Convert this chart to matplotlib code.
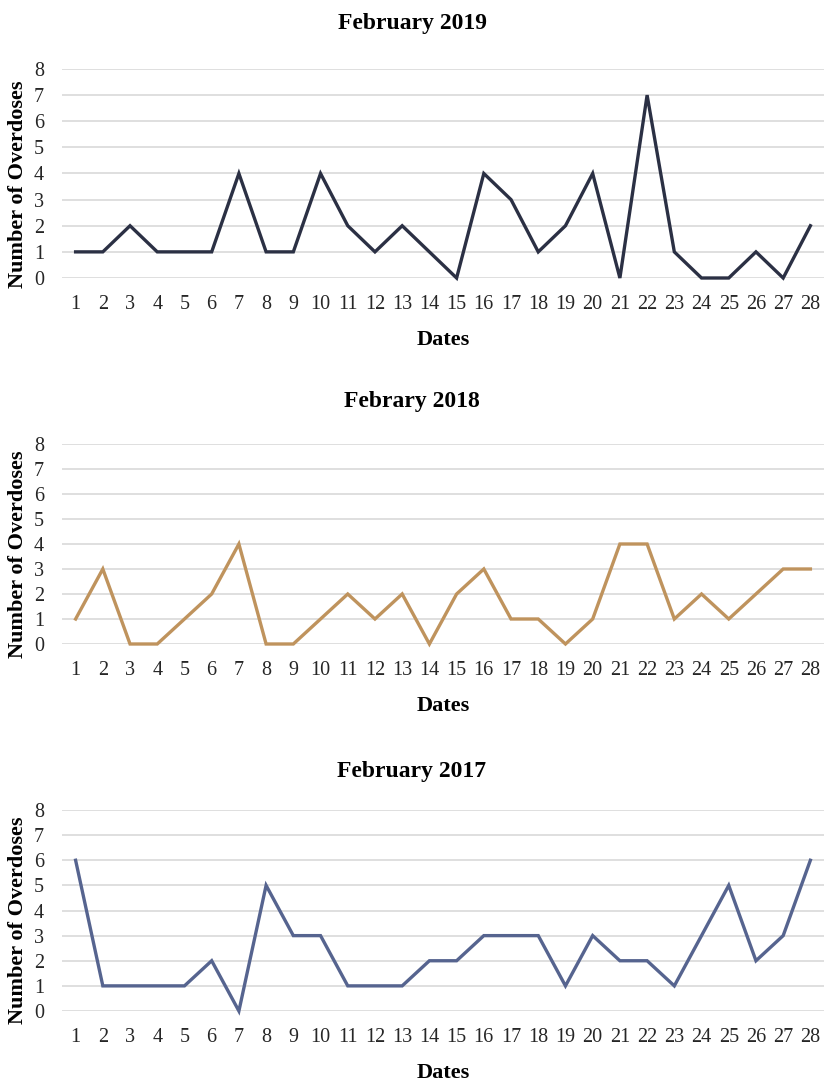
import matplotlib
matplotlib.use("Agg")
import matplotlib.pyplot as plt

dates = list(range(1, 29))
feb2019 = [1, 1, 2, 1, 1, 1, 4, 1, 1, 4, 2, 1, 2, 1, 0, 4, 3, 1, 2, 4, 0, 7, 1, 0, 0, 1, 0, 2]
feb2018 = [1, 3, 0, 0, 1, 2, 4, 0, 0, 1, 2, 1, 2, 0, 2, 3, 1, 1, 0, 1, 4, 4, 1, 2, 1, 2, 3, 3]
feb2017 = [6, 1, 1, 1, 1, 2, 0, 5, 3, 3, 1, 1, 1, 2, 2, 3, 3, 3, 1, 3, 2, 2, 1, 3, 5, 2, 3, 6]
titles = ["February 2019", "Febrary 2018", "February 2017"]
colors = ["#2b3044", "#bf935d", "#56648f"]
yticks = list(range(0, 9))

plt.rcParams['font.family'] = ['Liberation Serif', 'DejaVu Serif']

W, H = 824, 1085
fig = plt.figure(figsize=(W / 100, H / 100), dpi=100)

panels = [(69, 278, 23), (444, 644, 401), (810, 1011, 771)]
series = [feb2019, feb2018, feb2017]

for (ytop, ybot, ytitle), vals, title, col in zip(panels, series, titles, colors):
    left = 62 / W
    ax = fig.add_axes([left, 1 - ybot / H, 1 - left, (ybot - ytop) / H])
    ax.plot(dates, vals, color=col, lw=2.4, clip_on=False, zorder=3,
            solid_joinstyle='miter')
    ax.set_xlim(0.5, 28.5)
    ax.set_ylim(0, 8)
    ax.set_yticks(yticks)
    ax.set_xticks(dates)
    ax.set_xticklabels([str(d) for d in dates])
    ax.grid(axis='y', color='#d9d9d9', lw=1.2)
    ax.set_axisbelow(True)
    for s in ax.spines.values():
        s.set_visible(False)
    ax.tick_params(axis='both', length=0, labelsize=14.5, colors='#262626')
    ax.tick_params(axis='y', pad=13)
    ax.tick_params(axis='x', pad=12)
    ax.set_xlabel("Dates", fontsize=16, fontweight='bold', labelpad=12)
    ax.set_ylabel("Number of Overdoses", fontsize=16, fontweight='bold')
    ax.yaxis.set_label_coords(-34 / (W - 62), 0.45)
    fig.text(0.5, 1 - ytitle / H, title, ha='center', va='center',
             fontsize=17, fontweight='bold')

fig.savefig("out.png", dpi=100)
